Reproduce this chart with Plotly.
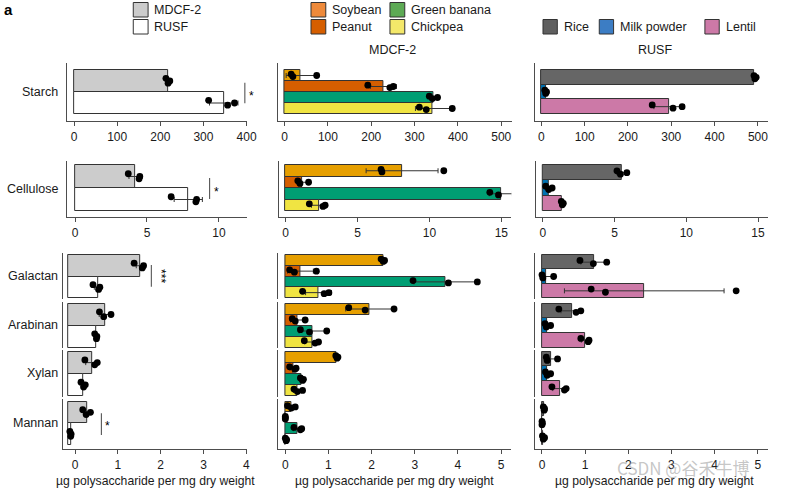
import plotly.graph_objects as go

W, H = 785, 491

# ---------------- data ----------------
polysaccharides = ["Starch", "Cellulose", "Galactan", "Arabinan", "Xylan", "Mannan"]
diets = ["MDCF-2", "RUSF"]
mdcf2_ingredients = ["Soybean", "Peanut", "Green banana", "Chickpea"]
rusf_ingredients = ["Rice", "Milk powder", "Lentil"]

# diet-level (per polysaccharide, same order as `polysaccharides`)
mdcf2_mean = [217, 4.2, 1.53, 0.705, 0.40, 0.29]
mdcf2_err = [5, 0.45, 0.10, 0.14, 0.15, 0.09]
mdcf2_pts = [[213, 218, 222], [3.7, 4.45, 4.5], [1.38, 1.57, 1.6], [0.57, 0.67, 0.84], [0.23, 0.46, 0.52], [0.18, 0.26, 0.36]]
rusf_mean = [347, 7.87, 0.53, 0.49, 0.19, -0.10]
rusf_err = [33, 0.98, 0.08, 0.03, 0.05, 0.03]
rusf_pts = [[312, 356, 372], [6.68, 8.4, 8.45], [0.42, 0.55, 0.58], [0.46, 0.5, 0.51], [0.14, 0.2, 0.24], [-0.12, -0.1, -0.09]]

# MDCF-2 ingredients
soybean_mean = [36.5, 8.1, 2.27, 1.95, 1.18, 0.14]
soybean_err = [33, 2.5, 0.04, 0.55, 0.03, 0.09]
soybean_pts = [[15, 19, 74], [6.64, 6.7, 11.0], [2.22, 2.27, 2.3], [1.47, 1.85, 2.52], [1.17, 1.2, 1.22], [0.05, 0.14, 0.23]]
peanut_mean = [228, 1.15, 0.35, 0.27, 0.19, 0.0]
peanut_err = [30, 0.35, 0.30, 0.15, 0.08, 0.0]
peanut_pts = [[192, 243, 251], [0.85, 1.0, 1.6], [0.1, 0.21, 0.72], [0.16, 0.23, 0.46], [0.1, 0.22, 0.25], [0.0, 0.0, 0.0]]
banana_mean = [344, 14.97, 3.72, 0.62, 0.37, 0.29]
banana_err = [10, 0.8, 0.74, 0.30, 0.04, 0.10]
banana_pts = [[334, 341, 353], [14.2, 14.8, 15.8], [2.96, 3.78, 4.45], [0.35, 0.56, 0.96], [0.35, 0.4, 0.42], [0.2, 0.35, 0.38]]
chickpea_mean = [342, 2.3, 0.77, 0.62, 0.29, 0.01]
chickpea_err = [40, 0.5, 0.30, 0.17, 0.10, 0.02]
chickpea_pts = [[311, 327, 387], [1.65, 2.6, 2.75], [0.4, 0.9, 1.01], [0.44, 0.69, 0.77], [0.2, 0.28, 0.4], [0.0, 0.02, 0.03]]

# RUSF ingredients
rice_mean = [492, 5.5, 1.2, 0.69, 0.2, 0.04]
rice_err = [3, 0.35, 0.30, 0.25, 0.13, 0.02]
rice_pts = [[491, 493, 496], [5.16, 5.4, 5.85], [0.88, 1.19, 1.5], [0.39, 0.79, 0.9], [0.1, 0.12, 0.36], [0.03, 0.05, 0.06]]
milk_mean = [10, 0.39, 0.1, 0.12, 0.12, 0.0]
milk_err = [2, 0.2, 0.14, 0.06, 0.06, 0.01]
milk_pts = [[8, 10, 12], [0.19, 0.4, 0.64], [0.0, 0.02, 0.27], [0.07, 0.1, 0.2], [0.08, 0.12, 0.2], [0.0, 0.0, 0.01]]
lentil_mean = [295, 1.33, 2.37, 1.01, 0.42, 0.03]
lentil_err = [35, 0.08, 1.85, 0.10, 0.17, 0.03]
lentil_pts = [[256, 304, 325], [1.28, 1.35, 1.42], [1.14, 1.47, 4.5], [0.9, 1.07, 1.09], [0.23, 0.52, 0.56], [0.01, 0.03, 0.06]]

xtitle = "µg polysaccharide per mg dry weight"
panel_titles = ["MDCF-2", "RUSF"]

# ---------------- styles ----------------
FONT = "Liberation Sans, Arial, Helvetica, sans-serif"
EDGE = "#333333"
AXC = "#4d4d4d"
TXT = "#1a1a1a"

columns = [
    dict(mean=[mdcf2_mean, rusf_mean], err=[mdcf2_err, rusf_err], pts=[mdcf2_pts, rusf_pts],
         colors=["#CCCCCC", "#FFFFFF"]),
    dict(mean=[soybean_mean, peanut_mean, banana_mean, chickpea_mean],
         err=[soybean_err, peanut_err, banana_err, chickpea_err],
         pts=[soybean_pts, peanut_pts, banana_pts, chickpea_pts],
         colors=["#E69F00", "#D55E00", "#009E73", "#F0E442"]),
    dict(mean=[rice_mean, milk_mean, lentil_mean], err=[rice_err, milk_err, lentil_err],
         pts=[rice_pts, milk_pts, lentil_pts],
         colors=["#666666", "#0072B2", "#CC79A7"]),
]

# vertical layout (px): domain top, domain bottom, bars top, bars bottom
ROWS = [
    (63, 121, 70, 114),
    (161, 217, 165, 211),
    (253, 299, 255, 298),
    (302, 348, 303.5, 347.5),
    (350, 397, 351.5, 396),
    (399, 449, 401.5, 445),
]
# horizontal layout per column and row kind (starch, cellulose, others): L px, R px, range, dtick, bar base
XSPEC = [
    [(68, 250, [-16, 400.5], 100, 0), (68, 250, [-0.55, 11.94], 5, 0), (64, 250, [-0.276, 4.01], 1, -0.15)],
    [(282, 519, [-14.4, 525.8], 100, 0), (282.7, 518, [-0.45, 15.7], 5, 0), (282, 518, [-0.16, 5.24], 1, 0)],
    [(542, 778, [-14.4, 523.5], 100, 0), (542.7, 778, [-0.5, 15.7], 5, 0), (542, 778, [-0.16, 5.24], 1, 0)],
]
JIT = [-0.12, 0.1, 0.0]


def xp(v):
    return v / W


def yp(v):
    return 1 - v / H


fig = go.Figure()
layout = {}
ax = 0
for c, col in enumerate(columns):
    n = len(col["colors"])
    for p in range(len(polysaccharides)):
        ax += 1
        xa, ya = f"x{ax}", f"y{ax}"
        kind = 0 if p == 0 else (1 if p == 1 else 2)
        L, R, rng, dtick, base = XSPEC[c][kind]
        ypos = list(range(n))
        means = [col["mean"][g][p] for g in range(n)]
        errs = [col["err"][g][p] for g in range(n)]
        fig.add_trace(go.Bar(
            x=[m - base for m in means], y=ypos, base=base, orientation="h", width=1,
            marker=dict(color=col["colors"], line=dict(color=EDGE, width=1)),
            xaxis=xa, yaxis=ya, hoverinfo="skip", showlegend=False))
        fig.add_trace(go.Scatter(
            x=means, y=ypos, mode="markers", marker=dict(size=1, color="rgba(0,0,0,0)"),
            error_x=dict(type="data", array=errs, color="#333333", thickness=1, width=2.5),
            xaxis=xa, yaxis=ya, hoverinfo="skip", showlegend=False))
        pxs, pys = [], []
        for g in range(n):
            for k, v in enumerate(col["pts"][g][p]):
                pxs.append(v)
                pys.append(g + JIT[k])
        fig.add_trace(go.Scatter(
            x=pxs, y=pys, mode="markers", marker=dict(size=6.8, color="black"),
            xaxis=xa, yaxis=ya, hoverinfo="skip", showlegend=False, cliponaxis=False))

        dt, db, bt, bb = ROWS[p]
        ppu = (bb - bt) / n
        top_v = -0.5 - (bt - dt) / ppu
        bot_v = n - 0.5 + (db - bb) / ppu
        show_x = p in (0, 1, 5)
        xkey = "xaxis" if ax == 1 else f"xaxis{ax}"
        ykey = "yaxis" if ax == 1 else f"yaxis{ax}"
        layout[xkey] = dict(
            domain=[xp(L), xp(R)], anchor=ya, range=rng, dtick=dtick, tick0=0,
            visible=show_x, showline=True, linecolor=AXC, linewidth=1.2,
            ticks="outside", ticklen=4, tickwidth=1.1, tickcolor=AXC,
            tickfont=dict(family=FONT, size=12, color=TXT),
            showgrid=False, zeroline=False, fixedrange=True)
        layout[ykey] = dict(
            domain=[yp(db), yp(dt)], anchor=xa, range=[bot_v, top_v],
            showline=True, linecolor=AXC, linewidth=1.2, ticks="", showticklabels=False,
            showgrid=False, zeroline=False, fixedrange=True)

shapes = []
annotations = []


def rect(x0, y0, x1, y1, fill):
    shapes.append(dict(type="rect", xref="paper", yref="paper", x0=xp(x0), x1=xp(x1),
                       y0=yp(y1), y1=yp(y0), fillcolor=fill, line=dict(color=EDGE, width=1)))


def vline(x, y0, y1):
    shapes.append(dict(type="line", xref="paper", yref="paper", x0=xp(x), x1=xp(x),
                       y0=yp(y1), y1=yp(y0), line=dict(color="#555555", width=1.1)))


def text(x, y, s, xanchor="left", size=12, bold=False, angle=0, color=TXT, family=FONT):
    annotations.append(dict(xref="paper", yref="paper", x=xp(x), y=yp(y), text=(f"<b>{s}</b>" if bold else s),
                            showarrow=False, xanchor=xanchor, yanchor="middle", textangle=angle,
                            font=dict(family=family, size=size, color=color)))


# panel label
text(2, 10, "a", size=15, bold=True, color="#000000")

# legends
leg_diet_colors = ["#CCCCCC", "#FFFFFF"]
for i, name in enumerate(diets):
    y0 = 2.5 + i * 17
    rect(135, y0, 150, y0 + 14.5, leg_diet_colors[i])
    text(154, y0 + 7.5, name, size=12.5)

leg_mdcf_colors = ["#EE8A3B", "#D55E00", "#5DAA55", "#F4E86A"]
leg_pos = [(315, 2.5), (315, 19.5), (395, 2.5), (395, 19.5)]
for name, colr, (lx, ly) in zip(mdcf2_ingredients, leg_mdcf_colors, leg_pos):
    rect(lx, ly, lx + 15, ly + 14.5, colr)
    text(lx + 19, ly + 7.5, name, size=12.5)

leg_rusf_colors = ["#5F5F5F", "#3C7DC4", "#CC79A7"]
leg_rx = [550, 607, 714]
for name, colr, lx in zip(rusf_ingredients, leg_rusf_colors, leg_rx):
    rect(lx, 19.5, lx + 14.5, 34, colr)
    text(lx + 19, 27, name, size=12.5)

# panel titles
text(398, 50, panel_titles[0], xanchor="center", size=12.5)
text(663, 50, panel_titles[1], xanchor="center", size=12.5)

# row labels
row_y = [92, 189, 276, 325, 373, 423]
for name, yy in zip(polysaccharides, row_y):
    text(61, yy, name, xanchor="right", size=12.5)

# x titles
for cx in (157, 400, 663):
    text(cx, 481, xtitle, xanchor="center", size=12.2)

# significance marks
vline(248, 82.7, 103.3)
text(255, 96, "*", xanchor="center", size=12, color="#000000")
vline(212.3, 178, 199)
text(219, 192, "*", xanchor="center", size=12, color="#000000")
vline(153.3, 265, 286.7)
text(163, 276, "***", xanchor="center", size=12, angle=90, color="#000000")
vline(102.7, 413.3, 435)
text(108.5, 426, "*", xanchor="center", size=12, color="#000000")

# watermark
text(692, 467, "CSDN @谷禾牛博", xanchor="center", size=17, color="rgba(150,150,150,0.55)",
     family="Noto Sans CJK SC, Liberation Sans, sans-serif")

layout.update(dict(
    width=W, height=H, autosize=False, margin=dict(l=0, r=0, t=0, b=0),
    paper_bgcolor="white", plot_bgcolor="white", showlegend=False,
    shapes=shapes, annotations=annotations, bargap=0,
    font=dict(family=FONT, color=TXT),
))
fig.update_layout(**layout)
fig.write_html(
    "out.html",
    config={"displayModeBar": False},
    post_script=("document.documentElement.style.overflow='hidden';"
                 "document.body.style.overflow='hidden';"
                 "document.body.style.margin='0px';document.body.style.padding='0px';"),
)
